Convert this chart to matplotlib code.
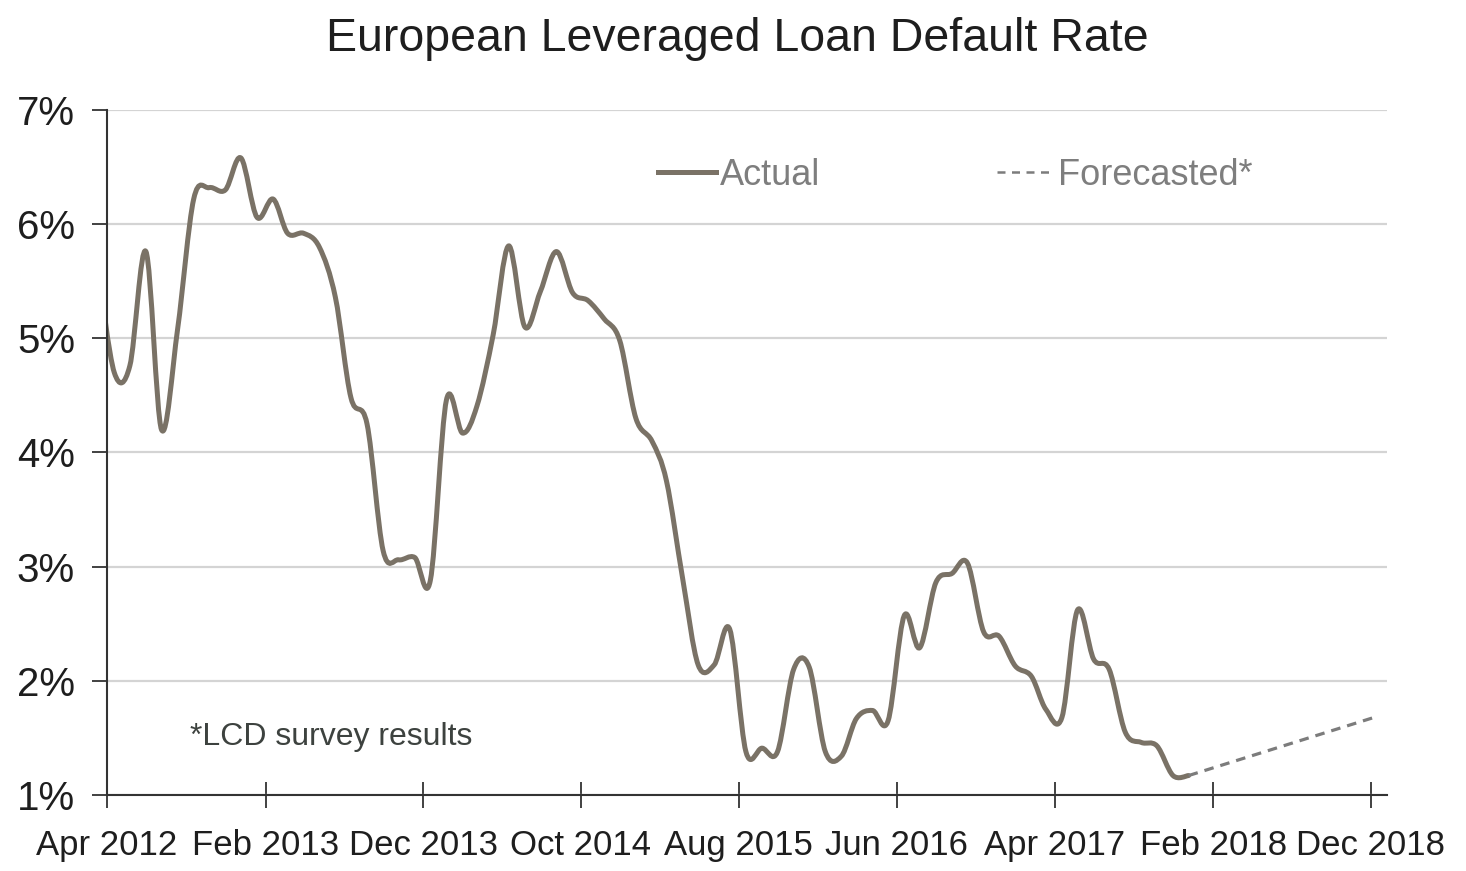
import matplotlib

matplotlib.use("Agg")
import matplotlib.pyplot as plt
import matplotlib.dates as mdates
import numpy as np
from matplotlib.lines import Line2D
from matplotlib.patches import PathPatch
from matplotlib.path import Path

# monthly default rate (%), mid-month readings, Mar 2012 .. Dec 2017
ACTUAL_START = "2012-03"
ACTUAL_VALUES = [
    5.60,                                                  # Mar 2012
    4.70, 4.76, 5.76, 4.20, 5.08, 6.22, 6.32, 6.30, 6.58,  # Apr - Dec 2012
    6.06, 6.22, 5.92, 5.92, 5.80, 5.36, 4.48, 4.25, 3.14,  # Jan - Sep 2013
    3.06, 3.08, 2.88,                                      # Oct - Dec 2013
    4.46, 4.17, 4.41, 5.03, 5.81, 5.10, 5.41, 5.76, 5.40,  # Jan - Sep 2014
    5.33, 5.17, 4.98,                                      # Oct - Dec 2014
    4.30, 4.10, 3.75, 2.90, 2.14, 2.14, 2.45, 1.38, 1.41,  # Jan - Sep 2015
    1.38, 2.10, 2.12,                                      # Oct - Dec 2015
    1.38, 1.34, 1.67, 1.74, 1.65, 2.57, 2.29, 2.86, 2.94,  # Jan - Sep 2016
    3.03, 2.43, 2.39,                                      # Oct - Dec 2016
    2.13, 2.04, 1.75, 1.68, 2.62, 2.19, 2.10, 1.55, 1.46,  # Jan - Sep 2017
    1.43, 1.17, 1.17,                                      # Oct - Dec 2017
]
FORECAST_DATES = ["2017-12-15", "2018-12-15"]
FORECAST_VALUES = [1.17, 1.69]

TICK_DATES = ["2012-04", "2013-02", "2013-12", "2014-10", "2015-08",
              "2016-06", "2017-04", "2018-02", "2018-12"]
TICK_LABELS = ["Apr 2012", "Feb 2013", "Dec 2013", "Oct 2014", "Aug 2015",
               "Jun 2016", "Apr 2017", "Feb 2018", "Dec 2018"]
Y_TICKS = [1, 2, 3, 4, 5, 6, 7]

TITLE = "European Leveraged Loan Default Rate"
NOTE = "*LCD survey results"

LINE_COLOR = "#7a7266"
FORECAST_COLOR = "#7c7c7c"
GRID_COLOR = "#d4d4d4"
TEXT_COLOR = "#1e1e1e"
LEGEND_TEXT = "#7e7e7e"


def smooth_path(x, y):
    """Excel-style smoothed line: cubic Bezier segments through every point."""
    pts = np.column_stack([x, y])
    n = len(pts)
    verts = [pts[0]]
    codes = [Path.MOVETO]
    for i in range(n - 1):
        prev_pt = pts[max(i - 1, 0)]
        next_pt = pts[min(i + 2, n - 1)]
        c1 = pts[i] + (pts[i + 1] - prev_pt) / 6.0
        c2 = pts[i + 1] - (next_pt - pts[i]) / 6.0
        verts.extend([c1, c2, pts[i + 1]])
        codes.extend([Path.CURVE4] * 3)
    return Path(verts, codes)


plt.rcParams["font.family"] = ["Liberation Sans", "DejaVu Sans"]

months = np.datetime64(ACTUAL_START, "M") + np.arange(len(ACTUAL_VALUES))
actual_dates = months.astype("datetime64[D]") + np.timedelta64(14, "D")
forecast_dates = np.array(FORECAST_DATES, dtype="datetime64[D]")
tick_dates = np.array(TICK_DATES, dtype="datetime64[M]").astype("datetime64[D]")

fig = plt.figure(figsize=(14.66, 8.71), dpi=100, facecolor="white")
ax = fig.add_axes([0.073, 0.0873, 0.873, 0.7864])

ax.xaxis_date()
actual_path = smooth_path(mdates.date2num(actual_dates), np.asarray(ACTUAL_VALUES))
ax.add_patch(PathPatch(actual_path, fill=False, edgecolor=LINE_COLOR, lw=3.6,
                       capstyle="round", joinstyle="round", zorder=3))
ax.plot(forecast_dates, FORECAST_VALUES, color=FORECAST_COLOR, lw=2.3,
        ls=(0, (3, 2.2)), zorder=3)

ax.set_xlim(np.datetime64("2012-04-01"), np.datetime64("2019-01-01"))
ax.set_ylim(1, 7)

ax.set_xticks(tick_dates)
ax.set_xticklabels(TICK_LABELS, fontsize=25, color=TEXT_COLOR)
ax.set_yticks(Y_TICKS)
ax.set_yticklabels([f"{v}%" for v in Y_TICKS], fontsize=29, color=TEXT_COLOR)
ax.tick_params(axis="x", direction="inout", length=19, width=1.3,
               color="#333333", pad=15)
ax.tick_params(axis="y", direction="out", length=11, width=1.3,
               color="#333333", pad=12)

for side in ("top", "right"):
    ax.spines[side].set_visible(False)
for side in ("left", "bottom"):
    ax.spines[side].set_color("#333333")
    ax.spines[side].set_linewidth(1.5)
ax.yaxis.grid(True, color=GRID_COLOR, lw=1.6, zorder=0)
ax.set_axisbelow(True)
ax.spines["left"].set_zorder(4)

handles = [
    Line2D([], [], color=LINE_COLOR, lw=3.6),
    Line2D([], [], color=FORECAST_COLOR, lw=1.8, ls=(0, (3.2, 2.6))),
]
ax.legend(handles, ["Actual", "Forecasted*"], loc="center",
          bbox_to_anchor=(0.663, 0.905), ncol=2, frameon=False,
          fontsize=26, labelcolor=LEGEND_TEXT, handlelength=1.6,
          handletextpad=0.1, columnspacing=4.9)

ax.text(0.065, 0.085, NOTE, transform=ax.transAxes, fontsize=23,
        color="#3d423f", ha="left", va="center")

fig.text(0.503, 0.955, TITLE, fontsize=33.5, color=TEXT_COLOR,
         ha="center", va="center")

fig.savefig("out.png", dpi=100, facecolor="white")
